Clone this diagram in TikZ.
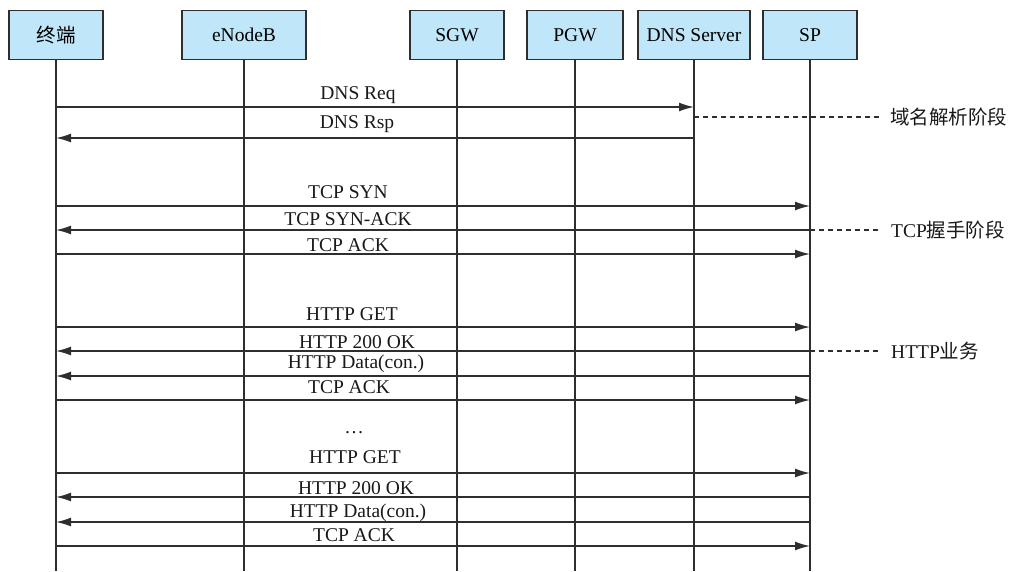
\documentclass[tikz,border=0pt]{standalone}
\usepackage{fontspec}
\setmainfont{Liberation Serif}
\newfontfamily\cjk{Noto Sans CJK SC}
\usetikzlibrary{arrows.meta}
\definecolor{boxfill}{HTML}{BFE7F9}
\definecolor{ln}{HTML}{2E2E2E}
\begin{document}
\begin{tikzpicture}[x=1pt,y=-1pt,
  font=\fontsize{19.5}{23}\selectfont,
  entity/.style={draw=ln, fill=boxfill, line width=1.2pt, minimum height=49pt, inner sep=0pt},
  life/.style={draw=ln, line width=1.3pt},
  msg/.style={draw=ln, line width=1.5pt, -{Latex[length=15pt,width=9pt]}},
  lbl/.style={anchor=base, inner sep=0pt, text=black!90},
  phase/.style={draw=ln, line width=1.3pt, dash pattern=on 5pt off 4pt},
  phlbl/.style={anchor=west, inner sep=0pt, text=black!90}]
\useasboundingbox (0,0) rectangle (1009,571);
% entities
\node[entity, minimum width=94pt]  (ue)  at (56,35)  {\cjk 终端};
\node[entity, minimum width=124pt] (enb) at (244,35) {eNodeB};
\node[entity, minimum width=94pt]  (sgw) at (457,35) {SGW};
\node[entity, minimum width=96pt]  (pgw) at (575,35) {PGW};
\node[entity, minimum width=112pt] (dns) at (694,35) {DNS Server};
\node[entity, minimum width=94pt]  (sp)  at (810,35) {SP};
% lifelines
\foreach \n in {ue,enb,sgw,pgw,dns,sp}{
  \coordinate (\n end) at (\n |- 0,571);
  \draw[life] (\n.south) -- (\n end);
}
% DNS phase
\draw[msg] (ue |- 0,107) -- (dns |- 0,107);
\node[lbl] (l1) at (358,99) {DNS Req};
\draw[msg] (dns |- 0,138) -- (ue |- 0,138);
\node[lbl] (l2) at (357,128) {DNS Rsp};
\node[phlbl] (ph1) at (890,117) {\cjk 域名解析阶段};
\draw[phase] (dns |- ph1) -- ([xshift=-10pt]ph1.west);
% TCP phase
\draw[msg] (ue |- 0,206) -- (sp |- 0,206);
\node[lbl] (l3) at (348,198) {TCP SYN};
\draw[msg] (sp |- 0,230) -- (ue |- 0,230);
\node[lbl] (l4) at (348,225) {TCP SYN-ACK};
\draw[msg] (ue |- 0,254) -- (sp |- 0,254);
\node[lbl] (l5) at (348,251) {TCP ACK};
\node[phlbl] (ph2) at (891,230) {TCP{\cjk 握手阶段}};
\draw[phase] (sp |- ph2) -- ([xshift=-11pt]ph2.west);
% HTTP phase
\draw[msg] (ue |- 0,327) -- (sp |- 0,327);
\node[lbl] (l6) at (352,320) {HTTP GET};
\draw[msg] (sp |- 0,351) -- (ue |- 0,351);
\node[lbl] (l7) at (357,348) {HTTP 200 OK};
\draw[msg] (sp |- 0,376) -- (ue |- 0,376);
\node[lbl] (l8) at (356,368) {HTTP Data(con.)};
\draw[msg] (ue |- 0,400) -- (sp |- 0,400);
\node[lbl] (l9) at (349,393) {TCP ACK};
\node[phlbl] (ph3) at (891,351) {HTTP{\cjk 业务}};
\draw[phase] (sp |- ph3) -- ([xshift=-11pt]ph3.west);
\node[lbl] (dots) at (354,433) {\dots};
\draw[msg] (ue |- 0,473) -- (sp |- 0,473);
\node[lbl] (l10) at (355,463) {HTTP GET};
\draw[msg] (sp |- 0,497) -- (ue |- 0,497);
\node[lbl] (l11) at (356,494) {HTTP 200 OK};
\draw[msg] (sp |- 0,522) -- (ue |- 0,522);
\node[lbl] (l12) at (358,517) {HTTP Data(con.)};
\draw[msg] (ue |- 0,546) -- (sp |- 0,546);
\node[lbl] (l13) at (354,541) {TCP ACK};
\end{tikzpicture}
\end{document}
